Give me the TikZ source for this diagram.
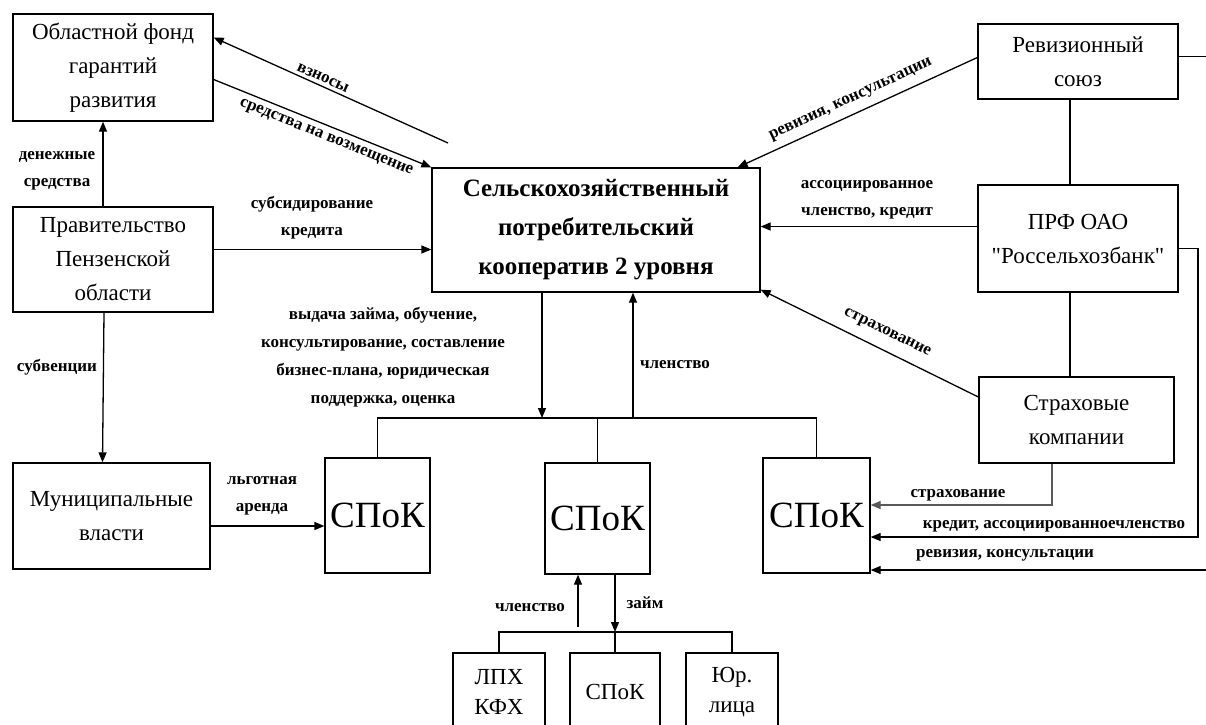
\documentclass[tikz,border=0pt]{standalone}
\usepackage{fontspec}
\setmainfont{Liberation Serif}
\newfontfamily\qfont{Liberation Serif}[Ligatures=TeXOff]
\usetikzlibrary{arrows.meta}

\begin{document}
\begin{tikzpicture}[x=1pt, y=-1pt,
  box/.style={draw, line width=1.3pt, align=center, inner sep=0pt, font=\fontsize{23}{34}\selectfont},
  spok/.style={draw, line width=1.3pt, minimum width=105pt, minimum height=115pt, inner sep=0pt, font=\fontsize{37}{40}\selectfont},
  lab/.style={align=center, inner sep=0pt, font=\bfseries\fontsize{17}{27}\selectfont},
  arr/.style={-{Triangle[length=10pt,width=8pt]}, line width=1.3pt}]
\clip (0,0) rectangle (1206,724);

\node[box, minimum width=200pt, minimum height=107pt] (fond) at (113,67.5) {Областной фонд\\гарантий\\развития};
\node[box, minimum width=200pt, minimum height=105pt] (prav) at (113,259.5) {Правительство\\Пензенской\\области};
\node[box, minimum width=197pt, minimum height=106pt] (mun) at (111.5,516) {Муниципальные\\власти};
\node[box, minimum width=328pt, minimum height=124pt, font=\bfseries\fontsize{25}{39}\selectfont] (coop) at (596,230) {Сельскохозяйственный\\потребительский\\кооператив 2 уровня};
\node[box, minimum width=200pt, minimum height=75pt] (rev) at (1078,61.5) {Ревизионный\\союз};
\node[box, minimum width=200pt, minimum height=107pt] (bank) at (1078,238.5) {ПРФ ОАО\\{\qfont"Россельхозбанк"}};
\node[box, minimum width=195pt, minimum height=86pt] (ins) at (1076.5,420) {Страховые\\компании};

\node[spok] (spok1) at (377.5,515.5) {СПоК};
\node[spok, minimum height=111pt] (spok2) at (597.5,518.5) {СПоК};
\node[spok, minimum width=107pt] (spok3) at (816.5,515.5) {СПоК};

\node[box, minimum width=92pt, minimum height=78pt, font=\fontsize{23}{30}\selectfont] (lpx) at (499,692) {ЛПХ\\КФХ};
\node[box, minimum width=90pt, minimum height=78pt] (spk) at (615,692) {СПоК};
\node[box, minimum width=92pt, minimum height=78pt, font=\fontsize{23}{30}\selectfont] (yur) at (732,692) {Юр.\\лица};

\draw[arr] ([xshift=-10pt]prav.north) -- ([xshift=-10pt]fond.south);
\draw[arr] ([xshift=-9pt]prav.south) -- ([xshift=-9pt]mun.north);
\coordinate (p1) at ([yshift=10pt]prav.east);
\draw[arr] (p1) -- (p1 -| coop.west);
\coordinate (p2) at ([yshift=-10pt]mun.east);
\draw[arr] (p2) -- (p2 -| spok1.west);

\coordinate (vz) at (448,143);
\draw[arr] (vz) -- ([yshift=30pt]fond.east);
\draw[arr] ([yshift=-12pt]fond.east) -- (coop.north west);
\draw[arr] ([yshift=4pt]rev.west) -- ([xshift=-23pt]coop.north east);
\coordinate (p3) at ([yshift=12pt]bank.west);
\draw[arr] (p3) -- (p3 -| coop.east);
\draw[arr] ([yshift=23pt]ins.west) -- ([yshift=3pt]coop.south east);

\draw[line width=1.3pt] ([xshift=-8pt]rev.south) -- ([xshift=-8pt]bank.north);
\draw[line width=1.3pt] ([xshift=-8pt]bank.south) -- ([xshift=-6.5pt]ins.north);
\draw[line width=1.3pt] ([yshift=5pt]rev.east) -- ++(40,0);

\draw[line width=1.3pt] (spok1.north) -- (spok1.north |- 0,418) -- (spok3.north |- 0,418) -- (spok3.north);
\draw[line width=1.3pt] (spok2.north) -- (spok2.north |- 0,418);
\coordinate (dn) at ([xshift=-54pt]coop.south);
\coordinate (up) at ([xshift=37pt]coop.south);
\draw[arr] (dn) -- (dn |- 0,418);
\draw[arr] (up |- 0,418) -- (up);

\coordinate (s1) at (1052,505);
\draw[arr, draw=gray!70!black] (ins.south -| s1) -- (s1) -- (s1 -| spok3.east);
\coordinate (k1) at (1198,537);
\draw[arr] ([yshift=-10pt]bank.east) -| (k1) -- (k1 -| spok3.east);
\coordinate (rv) at (1215,570);
\draw[arr] (rv) -- (rv -| spok3.east);

\draw[line width=1.3pt] (lpx.north) -- (lpx.north |- 0,632) -- (yur.north |- 0,632) -- (yur.north);
\draw[line width=1.3pt] (spk.north) -- (spk.north |- 0,632);
\draw[arr] (spok2.south -| spk.north) -- (spk.north |- 0,632);
\coordinate (cl) at (578,627);
\draw[arr] (cl) -- (cl |- spok2.south);

\node[lab] (lden) at (57,171) {денежные\\средства};
\node[lab] (lsubv) at (57,367) {субвенции};
\node[lab] (lsubs) at (312,218) {субсидирование\\кредита};
\node[lab] (llg) at (262,496) {льготная\\аренда};
\node[lab, rotate=-24] (lvz) at (323,78) {взносы};
\node[lab, rotate=-22] (lsr) at (326,138) {средства на возмещение};
\node[lab, rotate=25] (lrev) at (851,100) {ревизия, консультации};
\node[lab] (lass) at (867,200) {ассоциированное\\членство, кредит};
\node[lab, rotate=-26] (lstr) at (887,333) {страхование};
\node[lab, font=\bfseries\fontsize{17}{28}\selectfont] (lvyd) at (383,357) {выдача займа, обучение,\\консультирование, составление\\бизнес-плана, юридическая\\поддержка, оценка};
\node[lab] (lchl) at (675,365) {членство};
\node[lab] (lstr2) at (958,495) {страхование};
\node[lab] (lkr) at (1054,526) {кредит, ассоциированноечленство};
\node[lab] (lrev2) at (1005,555) {ревизия, консультации};
\node[lab] (lchl2) at (530,608) {членство};
\node[lab] (lzm) at (645,603) {займ};
\end{tikzpicture}
\end{document}
